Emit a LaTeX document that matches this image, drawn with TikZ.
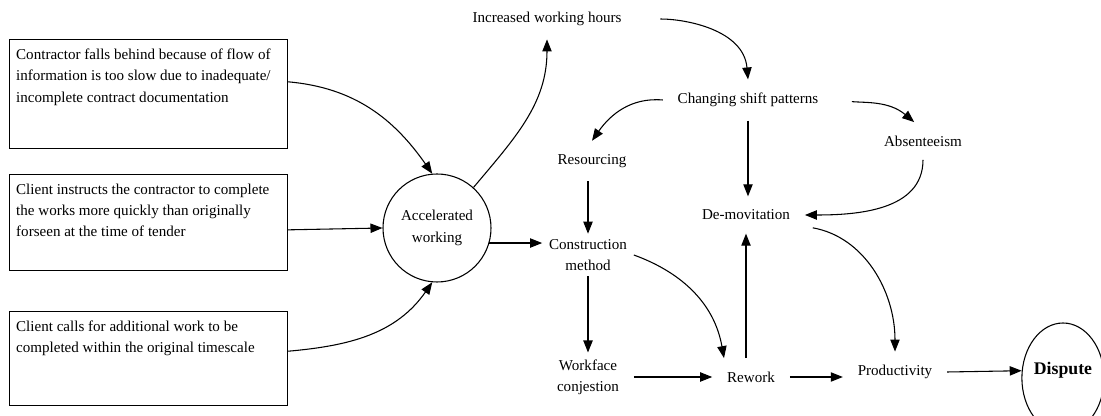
\documentclass[tikz,border=0pt]{standalone}
\usepackage{fontspec}
\setmainfont{Liberation Serif}
\usepackage{tikz}
\usetikzlibrary{arrows.meta,shapes.geometric,positioning,calc}

\tikzset{
  cause/.style={draw, line width=0.8pt, anchor=north west, inner xsep=5pt, inner ysep=7pt},
  factor/.style={inner xsep=11pt, inner ysep=10pt, align=center},
  link/.style={line width=0.8pt, -{Triangle[length=9pt,width=7pt]}},
}

\begin{document}
\begin{tikzpicture}[x=0.75pt, y=-0.75pt, font=\fontsize{11.3}{16}\selectfont]
\clip (0,0) rectangle (1101,416);

% Causes
\node[cause] (contractor) at (9,39) {\parbox[t][67.75pt][t]{198.5pt}{Contractor falls behind because of flow of\\information is too slow due to inadequate/\\incomplete contract documentation}};
\node[cause] (instruct) at (9,174) {\parbox[t][58pt][t]{198.5pt}{Client instructs the contractor to complete\\the works more quickly than originally\\forseen at the time of tender}};
\node[cause] (extra) at (9,311) {\parbox[t][56.5pt][t]{198.5pt}{Client calls for additional work to be\\completed within the original timescale}};

% Accelerated working and its effects
\node[draw, circle, line width=0.8pt, minimum size=81pt, inner sep=0pt, align=center] (accel) at (437,228) {Accelerated\\working};

\node[factor] (hours) at (547,19) {Increased working hours};
\node[factor] (shift) at (748,100) {Changing shift patterns};
\node[factor] (resourcing) at (592,161) {Resourcing};
\node[factor, inner xsep=5pt, inner ysep=4pt] (method) at (588,255) {Construction\\method};
\node[factor, inner ysep=5pt] (congestion) at (588,377) {Workface\\conjestion};
\node[factor] (rework) at (751,377) {Rework};
\node[factor] (demotiv) at (746,215) {De-movitation};
\node[factor] (absent) at (923,141) {Absenteeism};
\node[factor] (productivity) at (895,372) {Productivity};

\node[draw, ellipse, line width=0.8pt, minimum width=57pt, minimum height=82.5pt, inner sep=0pt,
  font=\fontsize{13.3}{16}\selectfont\bfseries, text height=9pt, text depth=13.5pt] (dispute) at (1063,378) {Dispute};

% Arrows into accelerated working
\draw[link] (contractor.5) to[out=-5, in=125] (accel.95);
\draw[link] (instruct.-3) -- (accel.west);
\draw[link] (extra.3) to[out=5, in=-125] (accel.-95);

% Arrows between factors
\draw[link] (accel.48) to[out=50, in=-90] (hours.south);
\draw[link, shorten <=18pt] (hours.east) to[out=0, in=95] (shift.north);
\draw[link] (shift.west) to[out=175, in=55] (resourcing.north);
\draw[link, shorten <=14pt] (shift.east) to[out=-5, in=140] (absent.115);
\draw[link] (shift.south) -- (shift.south |- demotiv.north);
\draw[link] (absent.south) to[out=-90, in=0] (demotiv.east);
\draw[link, shorten <=6pt] (demotiv.-11) to[out=-10, in=90] (productivity.north);
\draw[link] (resourcing.south -| method.north) -- (method.north);
\draw[link] (accel.-16) -- (accel.-16 -| method.west);
\draw[link] (method.south) -- (congestion.north);
\draw[link] (method.east) to[out=-20, in=100] (rework.145);
\draw[link] (congestion.east) -- (rework.west);
\draw[link] (rework.north -| demotiv.south) -- (demotiv.south);
\draw[link] (rework.east) -- (rework.east -| productivity.west);
\draw[link] (productivity.east) -- (dispute.170);

\end{tikzpicture}
\end{document}
